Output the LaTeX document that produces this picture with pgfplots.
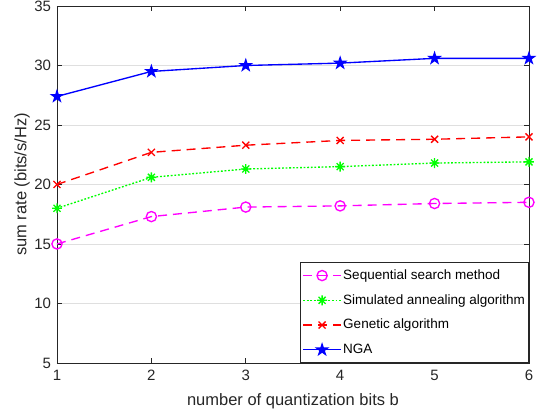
\documentclass[border=0pt]{standalone}
\usepackage{fontspec}
\setmainfont{Liberation Sans}
\usepackage{pgfplots}
\pgfplotsset{compat=1.18}
\usetikzlibrary{plotmarks}
\definecolor{axisgray}{RGB}{38,38,38}
\definecolor{gridgray}{RGB}{223,223,223}
\definecolor{mlmagenta}{RGB}{255,0,255}
\definecolor{mlgreen}{RGB}{0,255,0}
\definecolor{mlred}{RGB}{255,0,0}
\definecolor{mlblue}{RGB}{0,0,255}
\pgfdeclareplotmark{star8}{%
  \pgfpathmoveto{\pgfqpoint{0pt}{\pgfplotmarksize}}\pgfpathlineto{\pgfqpoint{0pt}{-\pgfplotmarksize}}%
  \pgfpathmoveto{\pgfqpoint{\pgfplotmarksize}{0pt}}\pgfpathlineto{\pgfqpoint{-\pgfplotmarksize}{0pt}}%
  \pgfpathmoveto{\pgfqpoint{.7071\pgfplotmarksize}{.7071\pgfplotmarksize}}\pgfpathlineto{\pgfqpoint{-.7071\pgfplotmarksize}{-.7071\pgfplotmarksize}}%
  \pgfpathmoveto{\pgfqpoint{-.7071\pgfplotmarksize}{.7071\pgfplotmarksize}}\pgfpathlineto{\pgfqpoint{.7071\pgfplotmarksize}{-.7071\pgfplotmarksize}}%
  \pgfusepathqstroke}
\pgfdeclareplotmark{pentagram}{%
  \pgfpathmoveto{\pgfpointpolar{90}{\pgfplotmarksize}}%
  \pgfpathlineto{\pgfpointpolar{126}{.382\pgfplotmarksize}}%
  \pgfpathlineto{\pgfpointpolar{162}{\pgfplotmarksize}}%
  \pgfpathlineto{\pgfpointpolar{198}{.382\pgfplotmarksize}}%
  \pgfpathlineto{\pgfpointpolar{234}{\pgfplotmarksize}}%
  \pgfpathlineto{\pgfpointpolar{270}{.382\pgfplotmarksize}}%
  \pgfpathlineto{\pgfpointpolar{306}{\pgfplotmarksize}}%
  \pgfpathlineto{\pgfpointpolar{342}{.382\pgfplotmarksize}}%
  \pgfpathlineto{\pgfpointpolar{18}{\pgfplotmarksize}}%
  \pgfpathlineto{\pgfpointpolar{54}{.382\pgfplotmarksize}}%
  \pgfpathclose
  \pgfusepathqfillstroke}
\begin{document}
\begin{tikzpicture}
\useasboundingbox (-38pt,-36.7pt) rectangle (321.4pt,242pt);
\begin{axis}[
  scale only axis,
  width=314.7pt, height=238pt,
  xmin=1, xmax=6, ymin=5, ymax=35,
  xtick={1,2,3,4,5,6},
  ytick={5,10,15,20,25,30,35},
  tick align=inside,
  major tick length=3.3pt,
  axis line style={draw=axisgray, line width=0.5pt},
  tick style={draw=axisgray, line width=0.5pt},
  ymajorgrids,
  grid style={draw=gridgray, line width=0.5pt},
  /pgf/number format/assume math mode=true,
  ticklabel style={text=axisgray, font=\fontsize{10}{12}\selectfont},
  xticklabel style={yshift=-1.5pt},
  yticklabel style={xshift=-0.5pt},
  label style={text=axisgray, font=\fontsize{11}{13}\selectfont},
  xlabel={number of quantization bits b},
  ylabel={sum rate (bits/s/Hz)},
  xlabel style={at={(axis description cs:0.5,-0.106)}, anchor=center},
  ylabel style={at={(axis description cs:-0.074,0.5)}, anchor=center},
  every axis plot/.append style={line width=0.9pt},
  legend style={at={(rel axis cs:1,0)}, anchor=south east, draw=axisgray, line width=0.5pt,
    font=\fontsize{9}{11}\selectfont, text=black, row sep=2.5pt, inner sep=1.5pt,
    nodes={font=\fontsize{9}{11}\selectfont, inner xsep=1pt, inner ysep=2.5pt, text height=7pt, text depth=2pt}},
  legend cell align=left,
  legend image code/.code={\draw[mark repeat=2,mark phase=2] plot coordinates {(0pt,0pt) (12.65pt,0pt) (25.3pt,0pt)};},
]
\addplot[color=mlmagenta, dash pattern=on 6pt off 4pt, mark=o, mark size=3.4pt, mark options={solid}] coordinates {
 (1,15.0) (2,17.3) (3,18.1) (4,18.2) (5,18.4) (6,18.5)};
\addlegendentry{Sequential search method}
\addplot[color=mlgreen, dash pattern=on 1.2pt off 1.2pt, mark=star8, mark size=3.3pt, mark options={solid}] coordinates {
 (1,18.0) (2,20.6) (3,21.3) (4,21.5) (5,21.8) (6,21.9)};
\addlegendentry{Simulated annealing algorithm}
\addplot[color=mlred, dash pattern=on 6pt off 4pt, mark=x, mark size=3.3pt, mark options={solid}] coordinates {
 (1,20.0) (2,22.7) (3,23.3) (4,23.7) (5,23.8) (6,24.0)};
\addlegendentry{Genetic algorithm}
\addplot[color=mlblue, mark=pentagram, mark size=3.7pt, mark options={solid, fill=mlblue}] coordinates {
 (1,27.4) (2,29.5) (3,30.0) (4,30.2) (5,30.6) (6,30.6)};
\addlegendentry{NGA}
\end{axis}
\end{tikzpicture}
\end{document}
